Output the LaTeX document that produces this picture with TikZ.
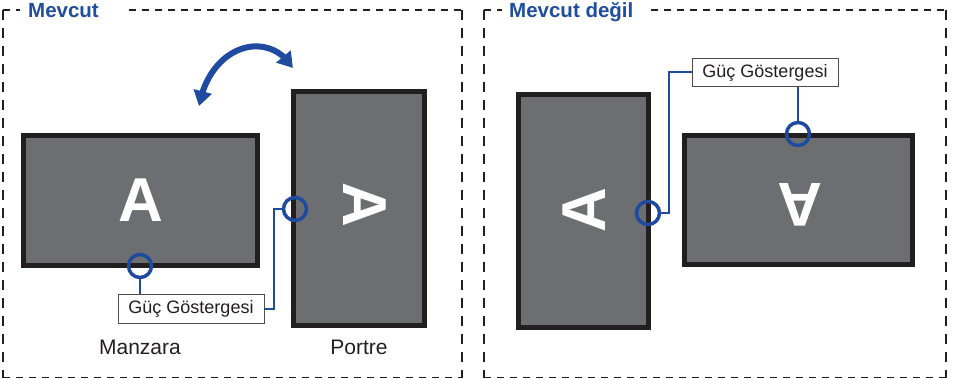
\documentclass[tikz,border=0pt]{standalone}
\usepackage{fontspec}
\setmainfont{Liberation Sans}
\usetikzlibrary{arrows.meta,bending}
\definecolor{frameblk}{HTML}{231F20}
\definecolor{screen}{HTML}{6D6E71}
\definecolor{ledblue}{HTML}{1E4BA0}
\definecolor{titleblue}{HTML}{1F4E9E}
\tikzset{
  hdash/.style={draw=frameblk,line width=1.8pt,dash pattern=on 7pt off 6pt},
  vdash/.style={draw=frameblk,line width=1.8pt,dash pattern=on 10pt off 8pt},
  monitor/.style={draw=frameblk,fill=screen,line width=5pt,inner sep=0pt,rectangle},
  bigA/.style={text=white,inner sep=0pt,font=\fontsize{62}{62}\selectfont\bfseries},
  led/.style={circle,draw=ledblue,line width=3.5pt,minimum size=23pt,inner sep=0pt},
  wire/.style={draw=ledblue,line width=2pt},
  lbl/.style={draw=black!70,line width=1pt,fill=white,minimum width=146pt,minimum height=28pt,inner sep=0pt,font=\fontsize{18}{18}\selectfont,text=frameblk},
  ttl/.style={anchor=base west,inner sep=0pt,text=titleblue,font=\fontsize{20.5}{20.5}\selectfont\bfseries},
  captxt/.style={anchor=base,inner sep=0pt,text=frameblk,font=\fontsize{21}{21}\selectfont}
}
\begin{document}
\begin{tikzpicture}[x=1pt,y=-1pt]
\useasboundingbox (0,0) rectangle (953,379);
% dashed frames
\draw[hdash] (3,10) -- (20,10);
\draw[hdash] (129,10) -- (462,10);
\draw[hdash] (3,377.5) -- (462,377.5);
\draw[vdash] (3,10) -- (3,377.5);
\draw[vdash] (462,10) -- (462,377.5);
\draw[hdash] (484,10) -- (502,10);
\draw[hdash] (651,10) -- (946,10);
\draw[hdash] (484,377.5) -- (946,377.5);
\draw[vdash] (484,10) -- (484,377.5);
\draw[vdash] (946,10) -- (946,377.5);
\node[ttl] (t1) at (28,18) {Mevcut};
\node[ttl] (t2) at (509,18) {Mevcut değil};
% monitors
\node[monitor,minimum width=234pt,minimum height=130pt] (m1) at (140.5,200.5) {};
\node[monitor,minimum width=131pt,minimum height=234pt] (m2) at (359,208.5) {};
\node[monitor,minimum width=130pt,minimum height=233pt] (m3) at (583.5,211) {};
\node[monitor,minimum width=228pt,minimum height=129pt] (m4) at (798.5,200) {};
\node[bigA] (a1) at (141,200) {A};
\node[bigA,rotate=-90] (a2) at (365,205) {A};
\node[bigA,rotate=90] (a3) at (584,210) {A};
\node[bigA,rotate=180] (a4) at (800,205) {A};
% rotation arrow
\draw[ledblue,line width=6pt,{Triangle[length=15pt,width=18pt,flex]}-{Triangle[length=15pt,width=18pt,flex]}]
  (199,106) .. controls (210,45) and (268,28) .. (293,68);
% power indicators
\node[led] (c1) at (140,266) {};
\node[led] (c2) at (295,209) {};
\node[led] (c3) at (648,213) {};
\node[led] (c4) at (798,134) {};
\node[lbl] (l1) at (191,309) {Güç Göstergesi};
\node[lbl] (l2) at (765,72.5) {Güç Göstergesi};
\draw[wire] (c1.south) -- (c1.south |- l1.north);
\draw[wire] (l1.east) -- ++(9,0) |- (c2.west);
\draw[wire] (c4.north) -- (c4.north |- l2.south);
\draw[wire] (l2.west) -- ++(-23,0) |- (c3.east);
% captions
\node[captxt] (cap1) at (140,354) {Manzara};
\node[captxt] (cap2) at (359,354) {Portre};
\end{tikzpicture}
\end{document}
